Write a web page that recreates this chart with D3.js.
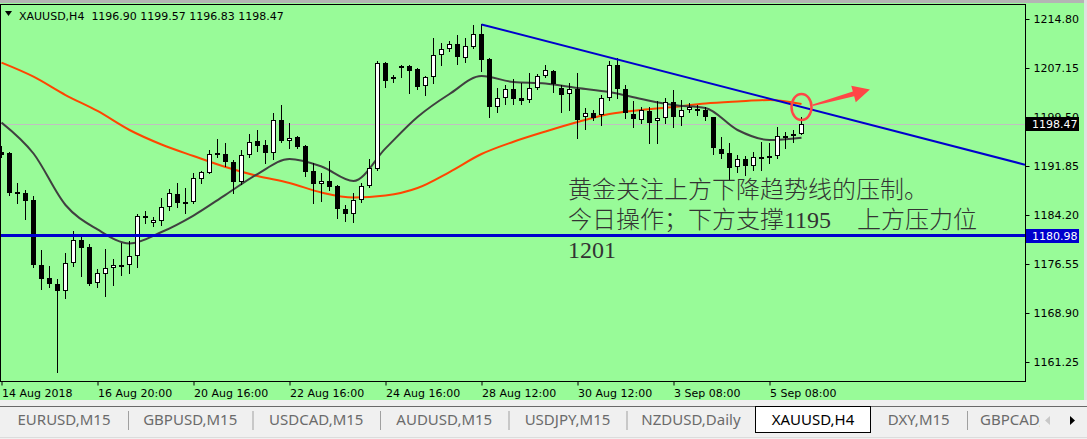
<!DOCTYPE html>
<html lang="en">
<head>
<meta charset="utf-8">
<title>XAUUSD,H4</title>
<script src="https://d3js.org/d3.v7.min.js"></script>
<style>
  html, body { margin: 0; padding: 0; background: #f0f0f0; overflow: hidden; }
  svg { display: block; }
  .pre { white-space: pre; }
</style>
</head>
<body>
<div id="chart"></div>
<script>
// ---- data (bar index 0 = 14 Aug 2018 20:00) ----
const opens  = [1194.1,1193.9,1187.75,1187.6,1186.5,1176.4,1174.4,1173.5,1172.4,1176.7,
                1180.3,1179.2,1173.5,1175.1,1176.0,1176.4,1176.35,1177.7,1184.0,1183.0,
                1183.2,1185.4,1187.5,1186.2,1186.2,1189.8,1190.9,1193.8,1193.7,1192.5,
                1189.4,1193.5,1195.75,1195.1,1193.9,1199.0,1195.8,1196.3,1195.0,1191.0,
                1189.0,1189.5,1188.7,1185.1,1184.3,1186.5,1188.7,1191.5,1208.0,1205.4,
                1207.4,1207.5,1206.95,1204.3,1205.7,1209.2,1210.1,1210.9,1208.8,1210.5,
                1212.5,1208.5,1200.95,1202.4,1203.8,1202.4,1202.15,1204.0,1205.9,1206.7,
                1204.0,1203.05,1203.8,1199.45,1200.1,1199.8,1202.4,1207.6,1203.8,1199.95,
                1199.0,1200.5,1198.8,1199.45,1201.9,1199.55,1200.6,1200.75,1200.6,1199.45,
                1194.45,1193.85,1191.6,1192.9,1191.85,1193.2,1193.05,1193.3,1196.5,1196.6,
                1196.90];
const highs  = [1194.9,1194.1,1189.2,1188.1,1187.2,1178.7,1176.2,1174.2,1178.3,1181.7,
                1181.3,1179.6,1175.7,1178.9,1177.3,1179.8,1180.1,1184.3,1184.8,1183.9,
                1186.8,1188.2,1189.2,1188.4,1190.7,1191.1,1194.3,1196.0,1195.5,1192.8,
                1194.3,1196.8,1197.5,1195.9,1200.1,1201.4,1198.5,1196.5,1195.1,1192.3,
                1190.7,1192.6,1188.9,1185.8,1187.6,1189.2,1192.9,1208.2,1208.1,1206.1,
                1207.6,1207.6,1207.1,1205.9,1211.9,1211.0,1211.4,1212.3,1211.9,1213.9,
                1213.95,1208.65,1204.0,1204.5,1205.5,1204.8,1206.4,1206.2,1207.6,1206.8,
                1204.5,1204.8,1206.4,1200.9,1200.6,1202.9,1208.3,1208.65,1204.5,1202.0,
                1201.1,1201.0,1202.0,1202.5,1203.7,1202.2,1201.7,1201.4,1201.1,1199.55,
                1196.3,1195.4,1193.6,1193.4,1194.1,1195.65,1195.4,1198.0,1197.2,1197.5,
                1199.57];
const lows   = [1193.2,1187.3,1186.1,1183.6,1176.1,1172.6,1173.0,1159.7,1171.3,1176.3,
                1174.6,1173.2,1173.0,1171.6,1173.2,1174.9,1175.2,1176.1,1182.9,1182.5,
                1182.6,1185.0,1185.5,1184.5,1186.0,1189.2,1190.7,1193.3,1191.85,1187.6,
                1189.0,1193.3,1194.2,1192.3,1192.9,1195.6,1194.6,1194.6,1190.3,1186.1,
                1186.4,1188.1,1183.8,1183.2,1183.1,1186.3,1188.6,1191.3,1204.2,1205.0,
                1205.8,1203.3,1203.8,1202.9,1204.85,1207.6,1209.85,1207.7,1208.1,1210.3,
                1206.7,1199.45,1200.3,1201.6,1201.5,1201.5,1201.9,1203.8,1205.8,1203.45,
                1200.3,1200.6,1196.2,1197.7,1199.0,1198.25,1202.15,1202.4,1199.4,1198.0,
                1198.5,1195.4,1195.4,1198.6,1198.0,1198.25,1200.3,1199.8,1199.0,1193.7,
                1193.1,1189.7,1190.95,1190.45,1191.2,1191.2,1192.3,1193.05,1194.6,1195.65,
                1196.83];
const closes = [1193.7,1187.6,1187.65,1186.4,1176.4,1174.2,1173.5,1172.4,1176.7,1180.3,
                1179.1,1173.4,1175.1,1176.0,1176.4,1176.45,1177.8,1184.0,1183.7,1183.4,
                1185.4,1187.6,1186.1,1186.25,1189.9,1190.9,1193.8,1193.9,1192.4,1189.4,
                1193.6,1195.6,1195.0,1193.9,1199.0,1195.75,1196.2,1194.8,1190.9,1188.9,
                1189.5,1188.6,1185.1,1184.3,1186.5,1188.7,1191.5,1208.0,1205.2,1205.7,
                1207.25,1206.7,1204.2,1205.7,1209.2,1210.1,1210.9,1208.8,1210.6,1212.5,
                1208.5,1200.95,1202.4,1203.8,1202.3,1202.0,1204.0,1205.9,1206.8,1204.65,
                1202.9,1203.8,1199.0,1200.1,1199.35,1202.4,1207.6,1203.8,1200.1,1199.1,
                1200.6,1198.7,1199.3,1201.9,1199.6,1200.6,1201.1,1200.65,1199.45,1194.6,
                1193.7,1191.5,1192.9,1191.75,1193.2,1193.3,1193.4,1196.5,1196.6,1196.9,
                1198.47];

// moving averages, read at every 4th bar
const maBars  = [0,4,8,12,16,20,24,28,32,36,40,44,48,52,56,60,64,68,72,76,80,84,88,92,96,100];
const maFast  = [1198.64,1193.8,1185.76,1181.94,1179.75,1181.54,1184.12,1187.35,1190.6,1192.94,
                 1191.77,1189.51,1194.6,1199.5,1203.09,1205.9,1204.96,1204.73,1204.03,1203.4,
                 1202.31,1201.37,1200.9,1197.47,1195.91,1196.27];
const maSlow  = [1207.98,1205.79,1202.93,1200.44,1197.47,1195.21,1193.41,1191.69,1190.29,1189.2,
                 1187.71,1186.93,1187.24,1188.41,1190.91,1193.72,1195.64,1197.24,1198.72,1199.97,
                 1200.59,1201.06,1201.61,1201.92,1202.15,1201.53];

const priceTicks = [1214.80,1207.15,1199.50,1191.85,1184.20,1176.55,1168.90,1161.25];
const timeBars   = [0,12,24,36,48,60,72,84,96];
const timeLabels = ["14 Aug 2018","16 Aug 20:00","20 Aug 16:00","22 Aug 16:00","24 Aug 16:00",
                    "28 Aug 12:00","30 Aug 12:00","3 Sep 08:00","5 Sep 08:00"];

const trendBars   = [60, 100];
const trendPrices = [1213.95, 1201.06];
const supportLevel = 1180.98;
const bidPrice = 1198.47;
const arrowFrom = [101.4, 1201.35];
const arrowTo   = [108.55, 1203.8];

const tabNames = ["EURUSD,M15","GBPUSD,M15","USDCAD,M15","AUDUSD,M15","USDJPY,M15",
                  "NZDUSD,Daily","XAUUSD,H4","DXY,M15","GBPCAD,M15"];
const activeTab = 6;

// ---- layout ----
const W = 1087, H = 439;
const frame = {left: 0.5, top: 4.5, right: 1025, bottom: 381};
const font = "DejaVu Sans";

const x = d3.scaleLinear().domain([0, 100]).range([1.5, 801.5]);
const y = d3.scaleLinear().domain([1161.25, 1214.80]).range([362, 19]);

const svg = d3.select("#chart").append("svg")
  .attr("width", W).attr("height", H)
  .attr("font-family", font);

svg.append("rect").attr("width", W).attr("height", 400).attr("fill", "#98fb98");
svg.append("rect").attr("width", W).attr("height", 3).attr("fill", "#b4b4b4");
svg.append("rect").attr("x", 1084).attr("width", 3).attr("height", 400).attr("fill", "#e0e0e0");

svg.append("clipPath").attr("id", "plotclip")
  .append("rect").attr("x", 1).attr("y", 5)
  .attr("width", frame.right - 1).attr("height", frame.bottom - 5);

const plot = svg.append("g").attr("clip-path", "url(#plotclip)");

// bid line
plot.append("line")
  .attr("x1", 0).attr("x2", frame.right)
  .attr("y1", Math.round(y(bidPrice)) + 0.5).attr("y2", Math.round(y(bidPrice)) + 0.5)
  .attr("stroke", "#c0c0c0").attr("stroke-width", 1);

// moving averages
const maLine = vals => d3.line()
  .x((d, i) => x(maBars[i]))
  .y(d => y(d))
  .curve(d3.curveMonotoneX)(vals);

plot.append("path").attr("d", maLine(maSlow))
  .attr("fill", "none").attr("stroke", "#ff4500").attr("stroke-width", 2);
plot.append("path").attr("d", maLine(maFast))
  .attr("fill", "none").attr("stroke", "#404040").attr("stroke-width", 2);

// candles
const candles = opens.map((o, i) => ({i, o, h: highs[i], l: lows[i], c: closes[i]}));
const cg = plot.append("g").attr("shape-rendering", "crispEdges");

cg.selectAll("line.wick").data(candles).join("line")
  .attr("class", "wick")
  .attr("x1", d => x(d.i)).attr("x2", d => x(d.i))
  .attr("y1", d => Math.round(y(d.h))).attr("y2", d => Math.round(y(d.l)) + 1)
  .attr("stroke", "#000");

cg.selectAll("rect.bear").data(candles.filter(d => d.c < d.o)).join("rect")
  .attr("class", "bear")
  .attr("x", d => x(d.i) - 2.5).attr("width", 5)
  .attr("y", d => Math.round(y(d.o)))
  .attr("height", d => Math.max(2, Math.round(y(d.c) - y(d.o))))
  .attr("fill", "#000");

cg.selectAll("rect.bull").data(candles.filter(d => d.c >= d.o)).join("rect")
  .attr("class", "bull")
  .attr("x", d => x(d.i) - 2).attr("width", 4)
  .attr("y", d => Math.round(y(d.c)) + 0.5)
  .attr("height", d => Math.max(1, Math.round(y(d.o) - y(d.c)) - 1))
  .attr("fill", "#fff").attr("stroke", "#000");

// support line
plot.append("line")
  .attr("x1", 0).attr("x2", frame.right)
  .attr("y1", y(supportLevel)).attr("y2", y(supportLevel))
  .attr("stroke", "#0000cd").attr("stroke-width", 3);

// falling trend line, extended to the right edge
const slope = (trendPrices[1] - trendPrices[0]) / (trendBars[1] - trendBars[0]);
const endBar = x.invert(frame.right);
plot.append("line")
  .attr("x1", x(trendBars[0])).attr("y1", y(trendPrices[0]))
  .attr("x2", x(endBar)).attr("y2", y(trendPrices[0] + slope * (endBar - trendBars[0])))
  .attr("stroke", "#0000cd").attr("stroke-width", 2);

// red circle + arrow
const red = "#ff4646";
plot.append("ellipse")
  .attr("cx", x(trendBars[1])).attr("cy", y(trendPrices[1]))
  .attr("rx", 10).attr("ry", 13)
  .attr("fill", "none").attr("stroke", red).attr("stroke-width", 2.5);

{
  const x0 = x(arrowFrom[0]), y0 = y(arrowFrom[1]);
  const x1 = x(arrowTo[0]), y1 = y(arrowTo[1]);
  const len = Math.hypot(x1 - x0, y1 - y0);
  const ux = (x1 - x0) / len, uy = (y1 - y0) / len;
  const px = -uy, py = ux;
  const bx = x1 - ux * 17, by = y1 - uy * 17;
  const pts = [
    [x0 + px * 0.8, y0 + py * 0.8],
    [bx + px * 2.5, by + py * 2.5],
    [bx + px * 8.5, by + py * 8.5],
    [x1, y1],
    [bx - px * 8.5, by - py * 8.5],
    [bx - px * 2.5, by - py * 2.5],
    [x0 - px * 0.8, y0 - py * 0.8]
  ];
  plot.append("path").attr("d", "M" + pts.join("L") + "Z").attr("fill", red);
}

// chinese commentary
const note = svg.append("g")
  .attr("font-family", '"Liberation Serif", "Noto Sans CJK SC", serif')
  .attr("font-size", 24).attr("font-weight", 300).attr("fill", "#333");
note.append("text").attr("x", 568).attr("y", 198).text("黄金关注上方下降趋势线的压制。");
const l2 = note.append("text").attr("x", 568).attr("y", 228);
l2.append("tspan").text("今日操作；下方支撑1195");
l2.append("tspan").attr("x", 857).text("上方压力位");
note.append("text").attr("x", 568).attr("y", 258).text("1201");

// frame
svg.append("path")
  .attr("d", `M${frame.left},${frame.bottom + 0.5}V${frame.top}H${frame.right + 0.5}V${frame.bottom + 0.5}H${frame.left}`)
  .attr("fill", "none").attr("stroke", "#000").attr("shape-rendering", "crispEdges");

// price axis
const yAxis = svg.append("g")
  .attr("transform", `translate(${frame.right + 0.5},0)`)
  .call(d3.axisRight(y).tickValues(priceTicks).tickSize(4).tickPadding(4)
    .tickFormat(d3.format(".2f")));
yAxis.select(".domain").remove();
yAxis.selectAll("text").attr("font-family", font).attr("font-size", 11).attr("fill", "#000");
yAxis.selectAll("line").attr("stroke", "#000");

// time axis
const xAxis = svg.append("g")
  .attr("transform", `translate(0,${frame.bottom + 0.5})`)
  .call(d3.axisBottom(x).tickValues(timeBars).tickSize(4).tickPadding(4)
    .tickFormat((d, i) => timeLabels[i]));
xAxis.select(".domain").remove();
xAxis.selectAll("text").attr("font-family", font).attr("font-size", 11)
  .attr("fill", "#000").attr("text-anchor", "start");
xAxis.selectAll("line").attr("stroke", "#000");

// price labels on the axis (the bid tag covers part of the 1199.50 tick, as in the terminal)
const tag = (price, bg) => {
  const g = svg.append("g").attr("transform", `translate(1026,${Math.round(y(price))})`);
  g.append("rect").attr("x", 0).attr("y", -7).attr("width", 53).attr("height", 14).attr("fill", bg);
  g.append("text").attr("x", 6).attr("dy", "0.36em")
    .attr("font-size", 11).attr("fill", "#fff").text(d3.format(".2f")(price));
};
tag(bidPrice, "#000");
tag(supportLevel, "#0000cd");

// header
svg.append("path").attr("d", "M5,11L12,11L8.5,16Z").attr("fill", "#000");
svg.append("text").attr("class", "pre").attr("x", 19).attr("y", 20)
  .attr("font-size", 11).attr("fill", "#000")
  .text(`XAUUSD,H4  ${opens[100].toFixed(2)} ${highs[100].toFixed(2)} ${lows[100].toFixed(2)} ${closes[100].toFixed(2)}`);

// tab bar
const tabEdges = [0, 128, 252.5, 380, 508.5, 626.5, 755.5, 870.5, 967, 1120];
const tabs = svg.append("g").attr("font-family", "Noto Sans").attr("font-size", 15);
tabs.append("rect").attr("y", 400).attr("width", W).attr("height", 39).attr("fill", "#f0f0f0");
tabs.append("line").attr("x1", 0).attr("x2", W).attr("y1", 406.5).attr("y2", 406.5)
  .attr("stroke", "#6a6a6a");
tabs.append("line").attr("x1", 0).attr("x2", W).attr("y1", 437.5).attr("y2", 437.5)
  .attr("stroke", "#dcdcdc");

tabs.append("clipPath").attr("id", "tabclip")
  .append("rect").attr("x", 0).attr("y", 400).attr("width", 1040).attr("height", 39);

tabNames.forEach((name, i) => {
  const a = tabEdges[i], b = tabEdges[i + 1];
  if (i === activeTab) {
    tabs.append("rect").attr("x", a).attr("y", 406.5).attr("width", b - a).attr("height", 26)
      .attr("fill", "#fff").attr("stroke", "#000").attr("shape-rendering", "crispEdges");
  } else if (i > 0 && i !== activeTab + 1) {
    tabs.append("line").attr("x1", a + 0.5).attr("x2", a + 0.5).attr("y1", 411).attr("y2", 430)
      .attr("stroke", "#a0a0a0");
  }
  const last = i === tabNames.length - 1;
  tabs.append("text")
    .attr("x", last ? a + 13 : (a + b) / 2).attr("y", 420).attr("dy", "0.35em")
    .attr("text-anchor", last ? "start" : "middle")
    .attr("clip-path", last ? "url(#tabclip)" : null)
    .attr("fill", i === activeTab ? "#000" : "#6b6b6b")
    .text(name);
});
tabs.append("path").attr("d", "M1050,416L1045,420.5L1050,425Z").attr("fill", "#c8c8c8");
tabs.append("path").attr("d", "M1070,416L1075,420.5L1070,425Z").attr("fill", "#000");
</script>
</body>
</html>
